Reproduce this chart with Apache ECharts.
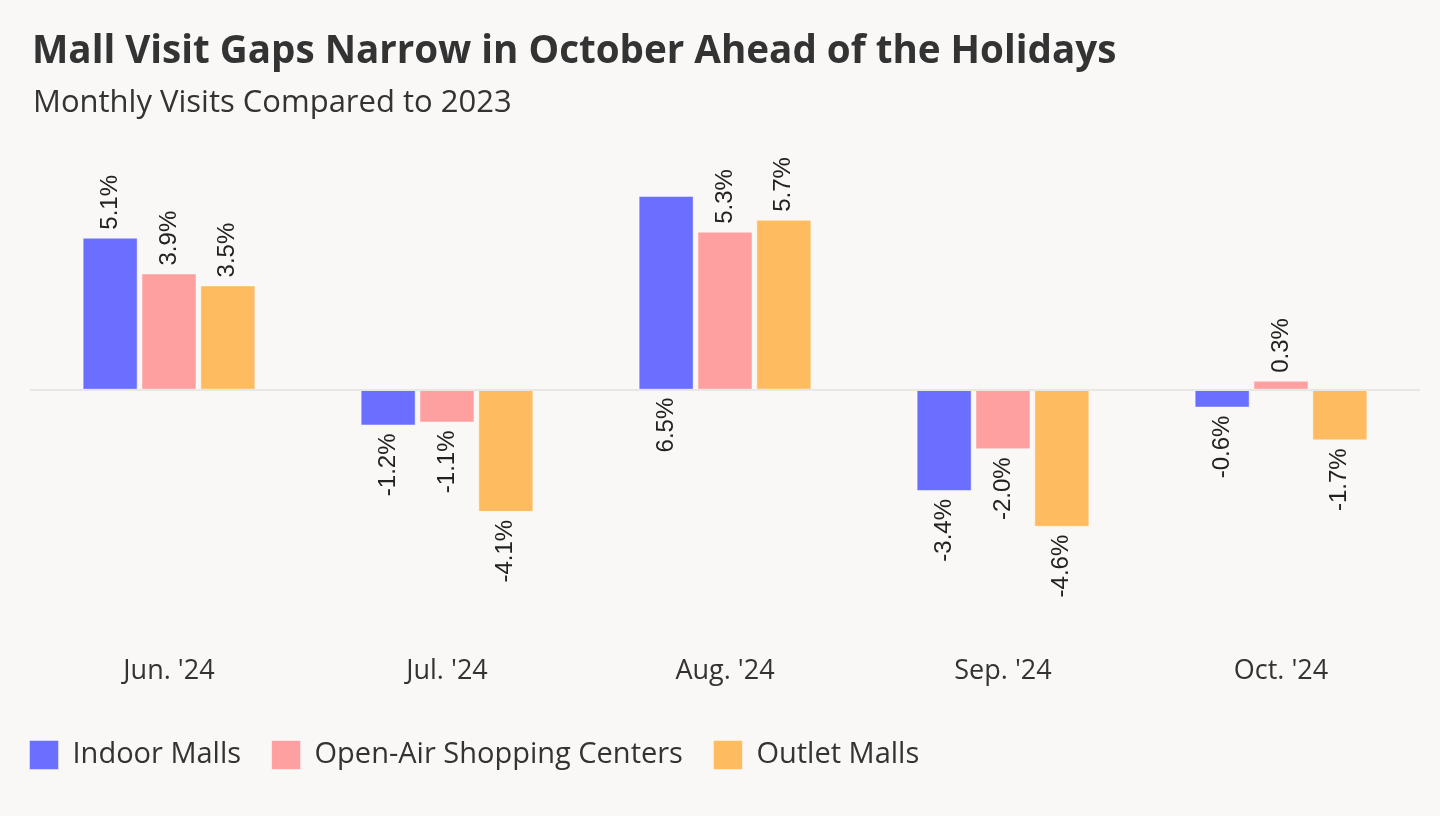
<!DOCTYPE html>
<html>
<head>
<meta charset="utf-8">
<script src="https://cdn.jsdelivr.net/npm/echarts@6/dist/echarts.min.js"></script>
<style>
html,body{margin:0;padding:0;background:#f9f8f6;}
#chart{width:1440px;height:816px;}
</style>
</head>
<body>
<div id="chart"></div>
<script>
const categories = ["Jun. '24", "Jul. '24", "Aug. '24", "Sep. '24", "Oct. '24"];
const seriesNames = ["Indoor Malls", "Open-Air Shopping Centers", "Outlet Malls"];
const indoorMalls = [5.1, -1.2, 6.5, -3.4, -0.6];
const openAir = [3.9, -1.1, 5.3, -2.0, 0.3];
const outletMalls = [3.5, -4.1, 5.7, -4.6, -1.7];
const colors = ["#6b6fff", "#ffa0a0", "#ffbb5f"];
const titleText = "Mall Visit Gaps Narrow in October Ahead of the Holidays";
const subtitleText = "Monthly Visits Compared to 2023";

const chart = echarts.init(document.getElementById('chart'));

function labelFor(v, forceBelow) {
  const below = v < 0 || forceBelow;
  return {
    show: true,
    position: below ? 'bottom' : 'top',
    rotate: 90,
    align: below ? 'right' : 'left',
    verticalAlign: 'middle',
    distance: 8,
    fontFamily: 'Liberation Sans',
    fontSize: 24,
    color: '#222',
    formatter: v.toFixed(1) + '%'
  };
}

function makeSeries(name, values, color, idx) {
  return {
    name: name,
    type: 'bar',
    barWidth: 55,
    barGap: '7%',
    itemStyle: { color: color, borderColor: 'rgba(255,255,255,0.45)', borderWidth: 1 },
    data: values.map((v, i) => ({
      value: v,
      label: labelFor(v, idx === 0 && i === 2)
    })),
    markLine: idx === 0 ? {
      silent: true,
      symbol: 'none',
      label: { show: false },
      lineStyle: { color: '#e9e7e4', width: 2, type: 'solid' },
      data: [{ yAxis: 0 }]
    } : undefined,
    z: 3
  };
}

const option = {
  backgroundColor: '#f9f8f6',
  animation: false,
  title: [
    { text: titleText, left: 27, top: 28, textStyle: { fontFamily: 'Open Sans', fontWeight: 'bold', fontSize: 38.6, color: '#333' } },
    { text: subtitleText, left: 28, top: 83, textStyle: { fontFamily: 'Open Sans', fontWeight: 'normal', fontSize: 31, color: '#333' } }
  ],
  legend: {
    left: 24, top: 735,
    itemWidth: 29, itemHeight: 29,
    itemGap: 30,
    icon: 'rect',
    itemStyle: { borderColor: 'rgba(255,255,255,0.45)', borderWidth: 1 },
    textStyle: { fontFamily: 'Open Sans', fontSize: 29, color: '#333', padding: [0, 0, 0, 9] },
    data: seriesNames
  },
  grid: { left: 30, right: 20, top: 151.3, height: 488.7 },
  xAxis: {
    type: 'category',
    data: categories,
    axisLine: { show: false, onZero: false },
    axisTick: { show: false },
    axisLabel: { fontFamily: 'Open Sans', fontSize: 27, color: '#333', margin: 18 },
    splitLine: { show: false }
  },
  yAxis: {
    type: 'value',
    min: -8.4, max: 8,
    show: false,
    splitLine: { show: false }
  },
  series: [
    makeSeries(seriesNames[0], indoorMalls, colors[0], 0),
    makeSeries(seriesNames[1], openAir, colors[1], 1),
    makeSeries(seriesNames[2], outletMalls, colors[2], 2)
  ],
  color: colors
};
chart.setOption(option);
</script>
</body>
</html>
